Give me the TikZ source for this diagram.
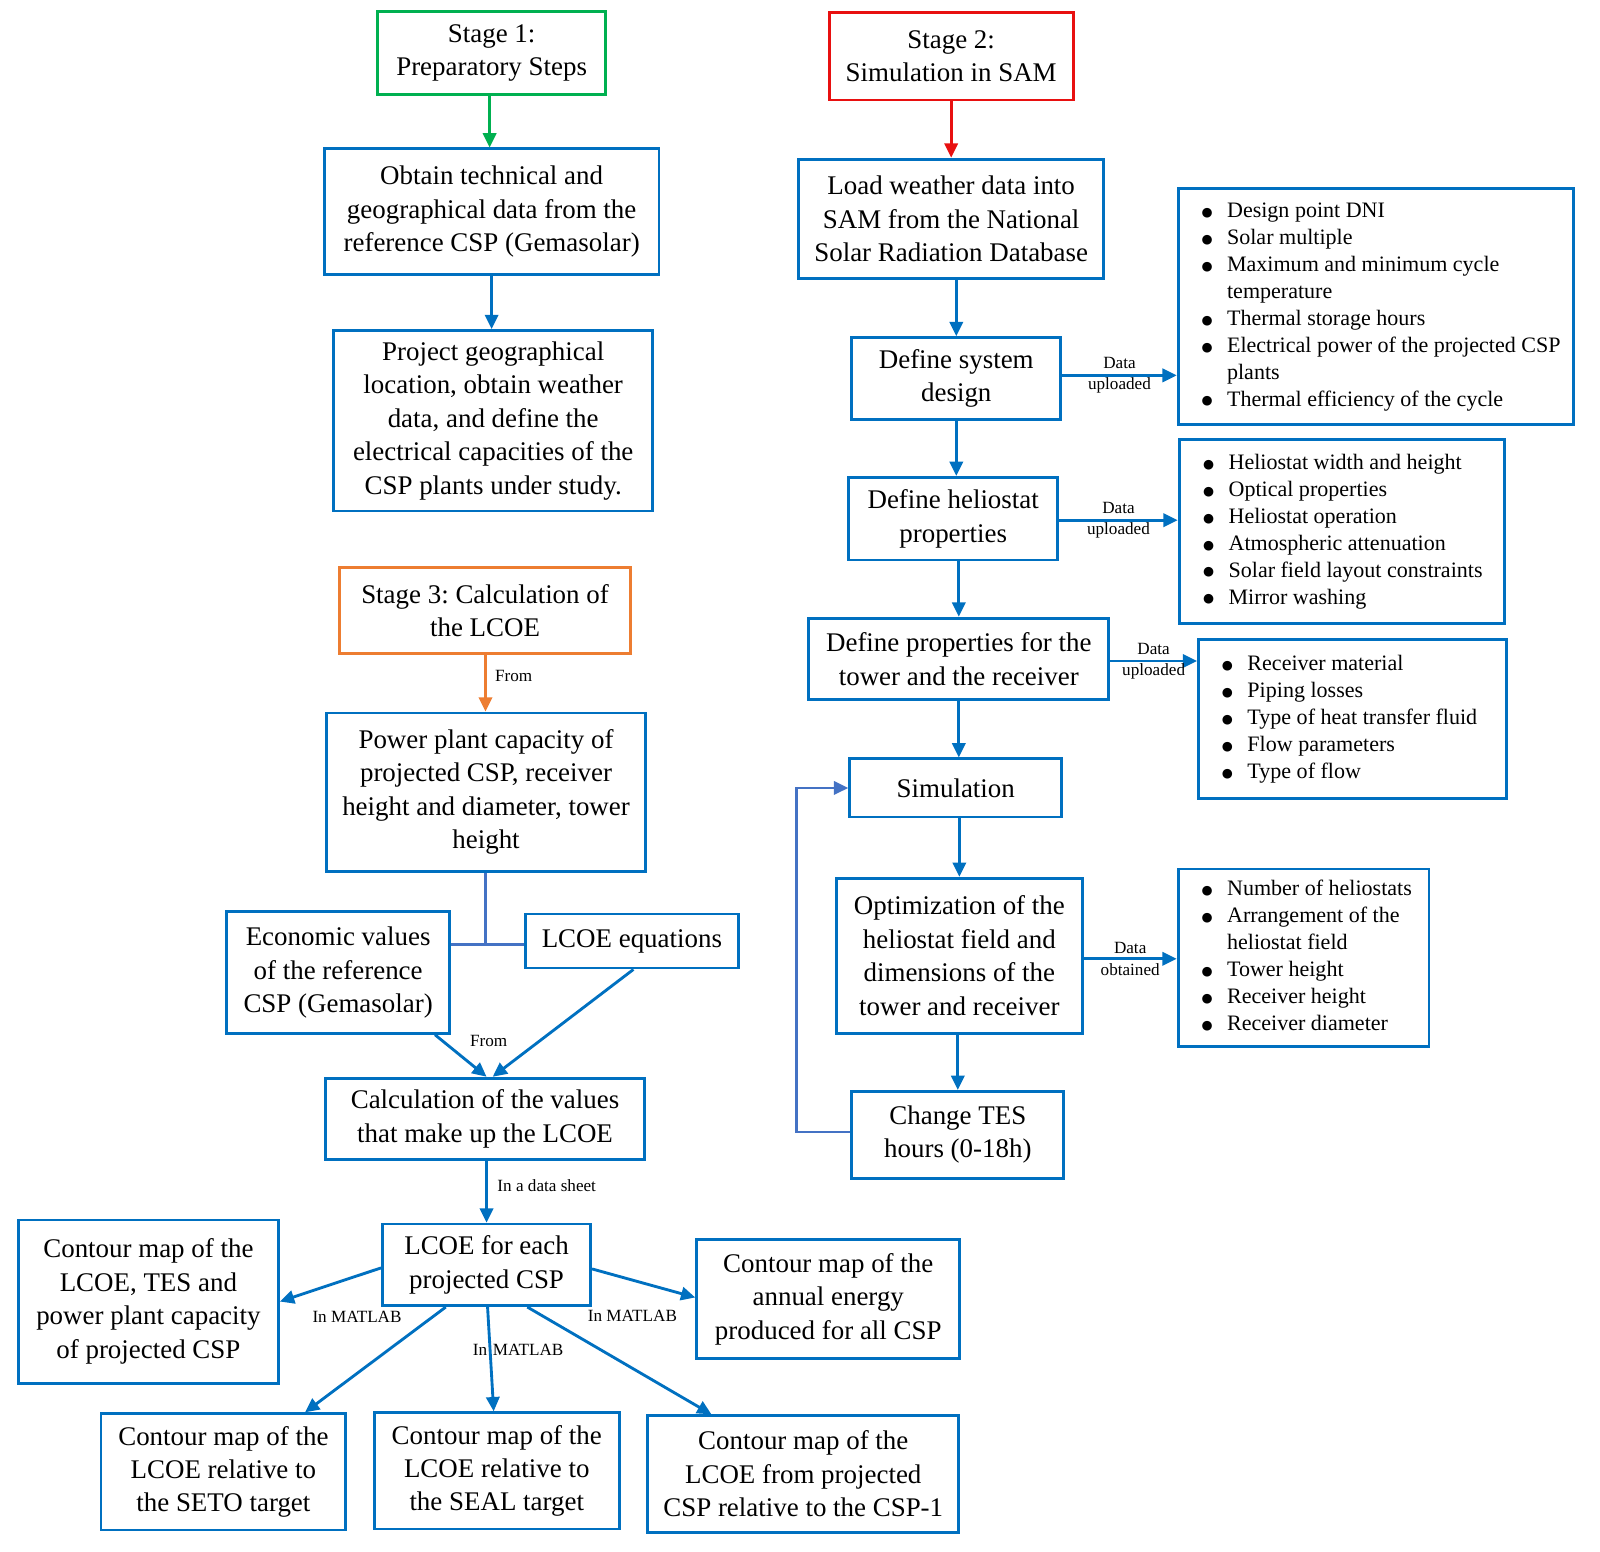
\documentclass[tikz,border=0pt]{standalone}
\usepackage{fontspec}
\setmainfont{Liberation Serif}
\newfontfamily\dejavu{DejaVu Sans}
\usetikzlibrary{arrows.meta}
\frenchspacing
\definecolor{cblue}{HTML}{0070C0}
\definecolor{cgreen}{HTML}{00B050}
\definecolor{cred}{HTML}{E81010}
\definecolor{corange}{HTML}{ED7D31}
\definecolor{clight}{HTML}{4472C4}
\newcommand\bu{\raisebox{0.6pt}{\dejavu\fontsize{6.2}{6}\selectfont ●}}
\newcommand\blst[2]{\makebox[#1][l]{\begin{tabular}{@{}p{12.5pt}@{}l@{}}#2\end{tabular}}}
\tikzset{
 box/.style={draw=cblue, line width=1.4pt, align=center, inner sep=1pt, font=\fontsize{13.2}{16.4}\selectfont},
 arr/.style={draw=cblue, line width=1.4pt, -{Triangle[length=7pt,width=6.5pt]}},
 lab/.style={font=\fontsize{8.4}{10.5}\selectfont, inner sep=0pt, align=center},
 blist/.style={draw=cblue, line width=1.4pt, inner xsep=11.5pt, inner ysep=0pt, font=\fontsize{10.8}{13.2}\selectfont},
}
\begin{document}
\begin{tikzpicture}[x=0.5pt,y=-0.5pt]
\useasboundingbox (0,0) rectangle (1568.6,1520.6);
% Stage 1 column
\node[box, draw=cgreen, minimum width=112pt, minimum height=40.5pt] (s1) at (482,52) {Stage 1:\\Preparatory Steps};
\node[box, minimum width=164pt, minimum height=61.5pt] (obtain) at (482,207.5) {Obtain technical and\\geographical data from the\\reference CSP (Gemasolar)};
\node[box, minimum width=156.5pt, minimum height=88.5pt] (project) at (483.5,412.5) {Project geographical\\location, obtain weather\\data, and define the\\electrical capacities of the\\CSP plants under study.};
% Stage 3 column
\node[box, draw=corange, minimum width=142.5pt, minimum height=42.5pt] (s3) at (475.5,598.5) {Stage 3: Calculation of\\the LCOE};
\node[box, minimum width=156.5pt, minimum height=77.5pt] (power) at (476.5,776.5) {Power plant capacity of\\projected CSP, receiver\\height and diameter, tower\\height};
\node[box, minimum width=109.5pt, minimum height=59.5pt] (econ) at (331.5,953.5) {Economic values\\of the reference\\CSP (Gemasolar)};
\node[box, minimum width=104.5pt, minimum height=26.5pt] (lcoeeq) at (619.5,922.5) {LCOE equations};
\node[box, minimum width=156.5pt, minimum height=40pt] (calc) at (475.5,1097) {Calculation of the values\\that make up the LCOE};
\node[box, minimum width=102pt, minimum height=40pt] (each) at (477,1240) {LCOE for each\\projected CSP};
\node[box, minimum width=127.5pt, minimum height=80pt] (tesmap) at (145.5,1276) {Contour map of the\\LCOE, TES and\\power plant capacity\\of projected CSP};
\node[box, minimum width=129pt, minimum height=58.5pt] (annual) at (812,1273.5) {Contour map of the\\annual energy\\produced for all CSP};
\node[box, minimum width=120pt, minimum height=57pt] (seto) at (219,1443) {Contour map of the\\LCOE relative to\\the SETO target};
\node[box, minimum width=120pt, minimum height=57pt] (seal) at (487,1442) {Contour map of the\\LCOE relative to\\the SEAL target};
\node[box, minimum width=152.5pt, minimum height=57pt] (csp1) at (787.5,1445) {Contour map of the\\LCOE from projected\\CSP relative to the CSP-1};
% Stage 2 column
\node[box, draw=cred, minimum width=119.5pt, minimum height=43pt] (s2) at (932.5,55) {Stage 2:\\Simulation in SAM};
\node[box, minimum width=149.5pt, minimum height=58.5pt] (load) at (932.5,214.5) {Load weather data into\\SAM from the National\\Solar Radiation Database};
\node[box, minimum width=102.5pt, minimum height=40pt] (sysdes) at (937.5,371) {Define system\\design};
\node[box, minimum width=102.5pt, minimum height=40.5pt] (helio) at (934.5,508.5) {Define heliostat\\properties};
\node[box, minimum width=147pt, minimum height=40pt] (tower) at (940,646) {Define properties for the\\tower and the receiver};
\node[box, minimum width=104pt, minimum height=28.5pt] (sim) at (937,772.5) {Simulation};
\node[box, minimum width=120.5pt, minimum height=76pt] (optim) at (940.5,937) {Optimization of the\\heliostat field and\\dimensions of the\\tower and receiver};
\node[box, minimum width=104pt, minimum height=42.5pt] (chg) at (939,1112.5) {Change TES\\hours (0-18h)};
% bullet boxes
\node[blist, minimum width=194pt, minimum height=115.5pt] (b1) at (1349,300.5) {\blst{171pt}{%
\bu & Design point DNI\\
\bu & Solar multiple\\
\bu & Maximum and minimum cycle\\
 & temperature\\
\bu & Thermal storage hours\\
\bu & Electrical power of the projected CSP\\
 & plants\\
\bu & Thermal efficiency of the cycle}};
\node[blist, minimum width=159.5pt, minimum height=90pt] (b2) at (1315.5,521) {\blst{136pt}{%
\bu & Heliostat width and height\\
\bu & Optical properties\\
\bu & Heliostat operation\\
\bu & Atmospheric attenuation\\
\bu & Solar field layout constraints\\
\bu & Mirror washing}};
\node[blist, minimum width=151pt, minimum height=78pt] (b3) at (1326,705) {\blst{128pt}{%
\bu & Receiver material\\
\bu & Piping losses\\
\bu & Type of heat transfer fluid\\
\bu & Flow parameters\\
\bu & Type of flow}};
\node[blist, minimum width=123pt, minimum height=87pt] (b4) at (1278,939) {\blst{100pt}{%
\bu & Number of heliostats\\
\bu & Arrangement of the\\
 & heliostat field\\
\bu & Tower height\\
\bu & Receiver height\\
\bu & Receiver diameter}};
% connectors stage 1
\draw[arr, draw=cgreen, -{Triangle[length=7pt,width=6.5pt,fill=cgreen]}] (s1.south -| 480,0) -- (obtain.north -| 480,0);
\draw[arr] (obtain.south) -- (obtain.south |- project.north);
% stage 2
\draw[arr, draw=cred, -{Triangle[length=7pt,width=6.5pt,fill=cred]}] (s2.south) -- (s2.south |- load.north);
\draw[arr] (load.south -| sysdes.north) -- (sysdes.north);
\draw[arr] (sysdes.south) -- (sysdes.south |- helio.north);
\draw[arr] (helio.south -| tower.north) -- (tower.north);
\draw[arr] (tower.south) -- (tower.south |- sim.north);
\draw[arr] (sim.south -| optim.north) -- (optim.north);
\draw[arr] (optim.south -| chg.north) -- (chg.north);
\coordinate (loopx) at (781,1110);
\draw[arr, draw=clight, line width=1.2pt] (chg.west |- loopx) -- (loopx) |- (sim.west);
\draw[arr] (sysdes.east |- 0,368) -- (b1.west |- 0,368) node[lab, midway] (l1) {Data\\uploaded};
\draw[arr] (helio.east |- 0,510) -- (b2.west |- 0,510) node[lab, midway] (l2) {Data\\uploaded};
\draw[arr] (tower.east |- 0,648) -- (b3.west |- 0,648) node[lab, midway] (l3) {Data\\uploaded};
\draw[arr] (optim.east |- 0,940) -- (b4.west |- 0,940) node[lab, midway] (l4) {Data\\obtained};
% stage 3
\draw[arr, draw=corange, -{Triangle[length=7pt,width=6.5pt,fill=corange]}] (s3.south -| 476,0) -- (power.north -| 476,0);
\node[lab, anchor=west] (from1) at (485,663) {From};
\coordinate (tj) at (476,926);
\draw[draw=clight, line width=1.2pt] (power.south -| tj) -- (tj);
\draw[draw=clight, line width=1.2pt] (econ.east |- tj) -- (lcoeeq.west |- tj);
\draw[arr] ([xshift=-8pt]econ.south east) -- ([xshift=0.75pt]calc.north);
\draw[arr] ([xshift=0.75pt]lcoeeq.south) -- ([xshift=3.75pt]calc.north);
\node[lab] (from2) at (479,1021) {From};
\draw[arr] (calc.south -| each.north) -- (each.north);
\node[lab] (ds) at (536,1162) {In a data sheet};
\draw[arr] ([yshift=-1.5pt]each.west) -- (tesmap.east);
\draw[arr] ([yshift=-2pt]each.east) -- ([yshift=0.75pt]annual.west);
\draw[arr] ([xshift=-20pt]each.south) -- ([xshift=40pt]seto.north);
\draw[arr] ([xshift=0.5pt]each.south) -- ([xshift=-1.5pt]seal.north);
\draw[arr] ([xshift=20pt]each.south) -- ([xshift=-45pt]csp1.north);
\node[lab] (m1) at (350,1291) {In MATLAB};
\node[lab] (m2) at (620,1290) {In MATLAB};
\node[lab] (m3) at (508,1323) {In\,\,MATLAB};
\end{tikzpicture}
\end{document}
